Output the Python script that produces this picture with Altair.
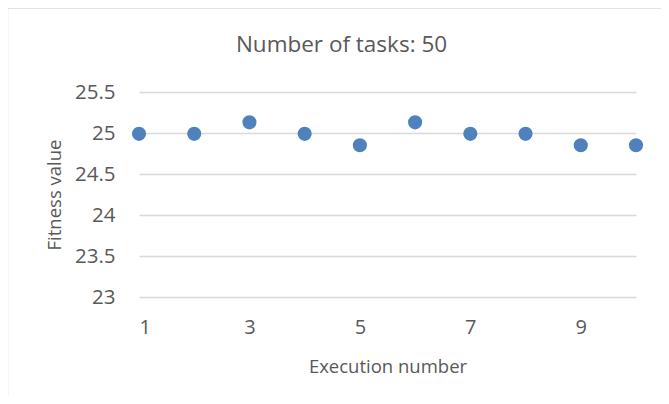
import altair as alt
import pandas as pd

execution = [1, 2, 3, 4, 5, 6, 7, 8, 9, 10]
fitness = [24.99, 24.99, 25.13, 24.99, 24.85, 25.13, 24.99, 24.99, 24.85, 24.85]
y_ticks = [23, 23.5, 24, 24.5, 25, 25.5]
x_ticks = [1, 3, 5, 7, 9]
chart_title = ["Number of tasks: 50"]

df = pd.DataFrame({"Execution number": execution, "Fitness value": fitness})

FONT = "Open Sans"
TEXT = "#595959"

points = alt.Chart(df).mark_circle(size=200, opacity=1, color="#4F81BD").encode(
    x=alt.X("Execution number:Q",
            scale=alt.Scale(domain=[1, 10], nice=False, zero=False),
            axis=alt.Axis(values=x_ticks, grid=False, domain=False, ticks=False,
                          labelPadding=20, labelFontSize=20, labelColor=TEXT,
                          labelFont=FONT, titleFont=FONT, titleFontSize=18.5,
                          titleFontWeight="normal", titleColor=TEXT,
                          titlePadding=20)),
    y=alt.Y("Fitness value:Q",
            scale=alt.Scale(domain=[23, 25.5], nice=False, zero=False),
            axis=alt.Axis(values=y_ticks, format="~g", grid=True,
                          gridColor="#d9d9d9", gridWidth=1.5,
                          domain=False, ticks=False, labelPadding=24,
                          labelFontSize=20.5, labelColor=TEXT, labelFont=FONT,
                          titleFont=FONT, titleFontSize=18.5,
                          titleFontWeight="normal", titleColor=TEXT,
                          titlePadding=10)),
)

border = alt.Chart(alt.Data(values=[{}])).mark_rect(
    fillOpacity=0, stroke="#d9d9d9", strokeWidth=1.5
).encode(
    x=alt.value(-131.5), x2=alt.value(560), y=alt.value(-84), y2=alt.value(340)
)

title = alt.Chart(pd.DataFrame({"t": chart_title})).mark_text(
    font=FONT, fontSize=22.5, color=TEXT, align="center", baseline="alphabetic"
).encode(text="t:N", x=alt.value(202.5), y=alt.value(-40))

chart = alt.layer(border, title, points).properties(
    width=497, height=205,
    autosize=alt.AutoSizeParams(type="none"),
    padding={"left": 131, "top": 84, "right": 25, "bottom": 99},
).configure_view(stroke=None)

chart.save("out.html", embed_options={"renderer": "svg", "actions": False})
